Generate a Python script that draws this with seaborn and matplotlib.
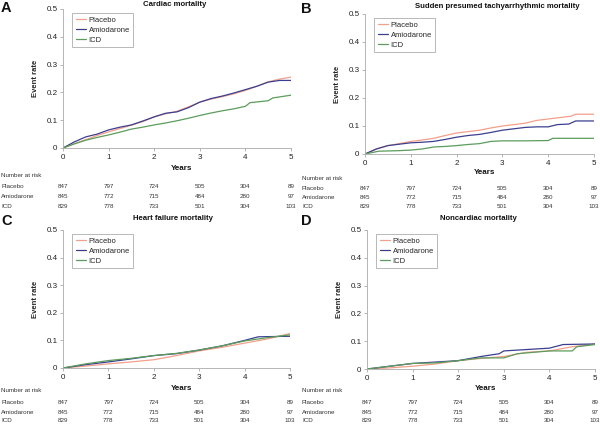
import matplotlib
matplotlib.use("Agg")
import matplotlib.pyplot as plt
import matplotlib.transforms as mtransforms
import seaborn as sns
import pandas as pd

sns.set_theme(style="white")
plt.rcParams['font.family'] = ['Liberation Sans', 'DejaVu Sans']

groups = ["Placebo", "Amiodarone", "ICD"]
colors = {"Placebo": "#f2a08a", "Amiodarone": "#3b3f8f", "ICD": "#5c9c5c"}

# ---- Panel A: Cardiac mortality ----
a_t_plc = [0, 0.25, 0.5, 0.75, 1.0, 1.25, 1.5, 1.75, 2.0, 2.25, 2.5, 2.75, 3.0, 3.25, 3.5, 3.75, 4.0, 4.25, 4.5, 4.75, 5.0]
a_v_plc = [0, 0.015, 0.03, 0.045, 0.058, 0.07, 0.082, 0.095, 0.112, 0.123, 0.132, 0.148, 0.165, 0.176, 0.185, 0.195, 0.207, 0.222, 0.238, 0.248, 0.255]
a_t_ami = [0, 0.25, 0.5, 0.75, 1.0, 1.25, 1.5, 1.75, 2.0, 2.25, 2.5, 2.75, 3.0, 3.25, 3.5, 3.75, 4.0, 4.25, 4.5, 4.75, 5.0]
a_v_ami = [0, 0.022, 0.04, 0.05, 0.065, 0.075, 0.083, 0.097, 0.112, 0.125, 0.13, 0.145, 0.165, 0.178, 0.187, 0.198, 0.21, 0.222, 0.237, 0.243, 0.243]
a_t_icd = [0, 0.25, 0.5, 0.75, 1.0, 1.25, 1.5, 1.75, 2.0, 2.25, 2.5, 2.75, 3.0, 3.25, 3.5, 3.75, 4.0, 4.1, 4.5, 4.6, 5.0]
a_v_icd = [0, 0.015, 0.028, 0.038, 0.047, 0.057, 0.068, 0.075, 0.083, 0.09, 0.098, 0.107, 0.117, 0.126, 0.134, 0.141, 0.15, 0.163, 0.17, 0.18, 0.19]

# ---- Panel B: Sudden presumed tachyarrhythmic mortality ----
b_t_plc = [0, 0.25, 0.5, 0.75, 1.0, 1.25, 1.5, 1.75, 2.0, 2.25, 2.5, 2.75, 3.0, 3.25, 3.5, 3.75, 4.0, 4.25, 4.5, 4.6, 5.0]
b_v_plc = [0, 0.018, 0.03, 0.037, 0.045, 0.05, 0.056, 0.066, 0.075, 0.08, 0.085, 0.093, 0.1, 0.105, 0.11, 0.12, 0.125, 0.13, 0.135, 0.142, 0.142]
b_t_ami = [0, 0.25, 0.5, 0.75, 1.0, 1.25, 1.5, 1.75, 2.0, 2.25, 2.5, 2.75, 3.0, 3.25, 3.5, 3.75, 4.0, 4.2, 4.45, 4.6, 5.0]
b_v_ami = [0, 0.018, 0.03, 0.035, 0.04, 0.042, 0.045, 0.052, 0.06, 0.066, 0.07, 0.077, 0.085, 0.09, 0.095, 0.097, 0.097, 0.105, 0.107, 0.118, 0.118]
b_t_icd = [0, 0.3, 0.75, 1.0, 1.25, 1.5, 1.75, 2.0, 2.25, 2.5, 2.75, 3.0, 3.5, 4.0, 4.1, 5.0]
b_v_icd = [0, 0.01, 0.012, 0.014, 0.018, 0.025, 0.027, 0.03, 0.034, 0.037, 0.045, 0.047, 0.047, 0.048, 0.056, 0.056]

# ---- Panel C: Heart failure mortality ----
c_t_plc = [0, 0.5, 1.0, 1.5, 2.0, 2.5, 3.0, 3.5, 4.0, 4.5, 5.0]
c_v_plc = [0, 0.007, 0.015, 0.022, 0.03, 0.045, 0.062, 0.075, 0.09, 0.105, 0.125]
c_t_ami = [0, 0.5, 1.0, 1.5, 2.0, 2.5, 3.0, 3.5, 4.0, 4.3, 5.0]
c_v_ami = [0, 0.012, 0.022, 0.033, 0.045, 0.052, 0.065, 0.08, 0.1, 0.113, 0.115]
c_t_icd = [0, 0.5, 1.0, 1.5, 2.0, 2.5, 3.0, 3.5, 4.0, 4.5, 5.0]
c_v_icd = [0, 0.015, 0.027, 0.035, 0.045, 0.053, 0.065, 0.08, 0.098, 0.11, 0.12]

# ---- Panel D: Noncardiac mortality ----
d_t_plc = [0, 0.5, 1.0, 1.5, 2.0, 2.5, 3.0, 3.5, 4.0, 4.5, 5.0]
d_v_plc = [0, 0.004, 0.01, 0.018, 0.03, 0.038, 0.045, 0.06, 0.065, 0.08, 0.09]
d_t_ami = [0, 0.5, 1.0, 1.5, 2.0, 2.5, 2.9, 3.0, 3.5, 4.0, 4.3, 5.0]
d_v_ami = [0, 0.01, 0.02, 0.025, 0.03, 0.045, 0.055, 0.065, 0.07, 0.075, 0.088, 0.09]
d_t_icd = [0, 0.5, 1.0, 1.5, 2.0, 2.5, 3.0, 3.3, 4.0, 4.5, 4.6, 5.0]
d_v_icd = [0, 0.01, 0.02, 0.022, 0.03, 0.04, 0.04, 0.055, 0.065, 0.065, 0.08, 0.088]

titles = ["Cardiac mortality", "Sudden presumed tachyarrhythmic mortality",
          "Heart failure mortality", "Noncardiac mortality"]
letters = ["A", "B", "C", "D"]

risk_years = [0, 1, 2, 3, 4, 5]
risk_placebo = [847, 797, 724, 505, 304, 89]
risk_amiodarone = [845, 772, 715, 484, 280, 97]
risk_icd = [829, 778, 733, 501, 304, 103]
risk = {"Placebo": risk_placebo, "Amiodarone": risk_amiodarone, "ICD": risk_icd}

yticks = [0, 0.1, 0.2, 0.3, 0.4, 0.5]
ytick_labels = ["0", "0.1", "0.2", "0.3", "0.4", "0.5"]

panel_data = [
    [(a_t_plc, a_v_plc), (a_t_ami, a_v_ami), (a_t_icd, a_v_icd)],
    [(b_t_plc, b_v_plc), (b_t_ami, b_v_ami), (b_t_icd, b_v_icd)],
    [(c_t_plc, c_v_plc), (c_t_ami, c_v_ami), (c_t_icd, c_v_icd)],
    [(d_t_plc, d_v_plc), (d_t_ami, d_v_ami), (d_t_icd, d_v_icd)],
]

W, H = 600, 425
fig = plt.figure(figsize=(6, 4.25), dpi=100)

geom = [(63, 291, 9, 148), (365, 594, 14, 154), (63, 290, 230, 368), (367, 595, 230, 369)]
rows_y = [(176, 186, 197, 207), (179, 188, 198, 207), (391, 402, 412, 421), (390, 402, 412, 421)]
years_y = [168, 173, 388, 389]
title_pos = [(175, 5), (497, 6), (173, 219), (478, 219)]
letter_pos = [(1, 8), (301, 9), (1, 221), (301, 221)]
label_x = [1, 302, 1, 302]

for i in range(4):
    x0, x5, yt, yb = geom[i]
    ax = fig.add_axes([x0 / W, 1 - yb / H, (x5 - x0) / W, (yb - yt) / H])
    frames = []
    for g, (t, v) in zip(groups, panel_data[i]):
        frames.append(pd.DataFrame({"Years": t, "Event rate": v, "Group": g}))
    df = pd.concat(frames, ignore_index=True)
    sns.lineplot(data=df, x="Years", y="Event rate", hue="Group", palette=colors,
                 hue_order=groups, ax=ax, linewidth=0.9, estimator=None, sort=False)
    ax.set_xlim(0, 5)
    ax.set_ylim(0, 0.5)
    ax.set_xticks(risk_years)
    ax.set_xticklabels([str(y) for y in risk_years])
    ax.set_yticks(yticks)
    ax.set_yticklabels(ytick_labels)
    ax.tick_params(axis="both", labelsize=5.8, length=2, width=0.5, color="#999999",
                   pad=2, direction="out", left=True, bottom=True, labelcolor="#222222")
    for s in ["top", "right"]:
        ax.spines[s].set_visible(False)
    for s in ["left", "bottom"]:
        ax.spines[s].set_color("#aaaaaa")
        ax.spines[s].set_linewidth(0.6)
    ax.set_xlabel("")
    ax.set_ylabel("Event rate", fontsize=5.5, fontweight="bold", labelpad=5)
    leg = ax.legend(loc="upper left", bbox_to_anchor=(0.04, 0.97), fontsize=5.5,
                    frameon=True, fancybox=False, handlelength=1.4, handletextpad=0.3,
                    borderpad=0.45, labelspacing=0.35, borderaxespad=0)
    leg.get_frame().set_edgecolor("#999999")
    leg.get_frame().set_linewidth(0.6)
    leg.get_frame().set_facecolor("white")
    for line in leg.get_lines():
        line.set_linewidth(0.9)

    tx, ty = title_pos[i]
    fig.text(tx / W, 1 - ty / H, titles[i], fontsize=5.6, fontweight="bold",
             ha="center", va="center", color="#111111")
    lx, ly = letter_pos[i]
    fig.text(lx / W, 1 - ly / H, letters[i], fontsize=10.5, fontweight="bold",
             ha="left", va="center", color="#111111")
    fig.text(((x0 + x5) / 2 + 5) / W, 1 - years_y[i] / H, "Years", fontsize=5.8,
             fontweight="bold", ha="center", va="center", color="#111111")

    trans = mtransforms.blended_transform_factory(ax.transData, fig.transFigure)
    ry = rows_y[i]
    fig.text(label_x[i] / W, 1 - ry[0] / H, "Number at risk", fontsize=4.5,
             ha="left", va="center", color="#333333")
    for g, yy in zip(groups, ry[1:]):
        fig.text(label_x[i] / W, 1 - yy / H, g, fontsize=4.5, ha="left", va="center",
                 color="#333333")
        for yr, n in zip(risk_years, risk[g]):
            ax.text(yr, 1 - yy / H, str(n), transform=trans, fontsize=4.5,
                    ha="center", va="center", color="#333333", clip_on=False)

fig.savefig("out.png", dpi=100)
